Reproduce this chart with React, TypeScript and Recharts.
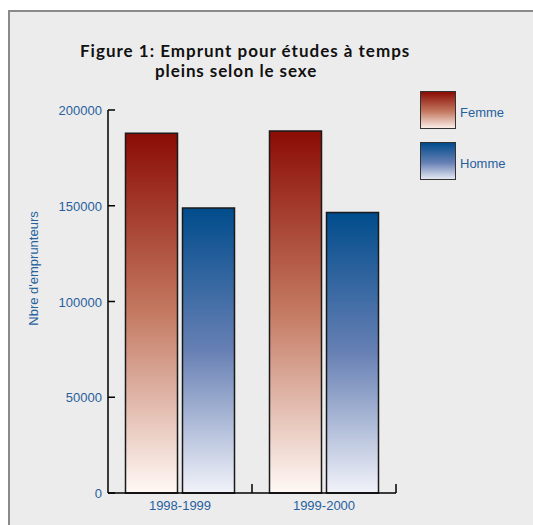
import React from 'react'
import { BarChart, Bar, XAxis, YAxis, Legend } from 'recharts'

const periods = ['1998-1999', '1999-2000']
const femme = [187800, 189000]
const homme = [148800, 146500]
const yTicks = [0, 50000, 100000, 150000, 200000]

const data = periods.map((p, i) => ({ period: p, Femme: femme[i], Homme: homme[i] }))

const BLUE = '#285f9d'
const FONT = '"Liberation Sans", Arial, sans-serif'

const legendBg: Record<string, string> = {
  Femme: 'linear-gradient(to bottom, #8b0c04, #c47a62 55%, #fbeee8)',
  Homme: 'linear-gradient(to bottom, #004c8c, #6780b4 55%, #e4e8f4)',
}

function YTick(props: any) {
  const { x, y, payload } = props
  return (
    <g>
      <line x1={x + 6} x2={x + 13} y1={y} y2={y} stroke="#000" strokeWidth={1.5} />
      <text x={x} y={y} dy={5} textAnchor="end" fill={BLUE} fontSize={13} fontFamily={FONT}>
        {payload.value}
      </text>
    </g>
  )
}

function XTick(props: any) {
  const { x, y, payload } = props
  const half = payload.offset ?? 72
  return (
    <g>
      <line x1={x + half} x2={x + half} y1={y} y2={y - 9} stroke="#000" strokeWidth={1.5} />
      <text x={x} y={y + 17} textAnchor="middle" fill={BLUE} fontSize={13} fontFamily={FONT}>
        {payload.value}
      </text>
    </g>
  )
}

function YLabel(props: any) {
  const { viewBox } = props
  const cx = viewBox.x + 10
  const cy = viewBox.y + viewBox.height / 2 - 33
  return (
    <text
      x={cx}
      y={cy}
      transform={`rotate(-90, ${cx}, ${cy})`}
      textAnchor="middle"
      dy={5}
      fill={BLUE}
      fontSize={13}
      fontFamily={FONT}
    >
      Nbre d'emprunteurs
    </text>
  )
}

function LegendBox(props: any) {
  const { payload } = props
  return (
    <div>
      {(payload || []).map((entry: any) => (
        <div key={entry.value} style={{ display: 'flex', alignItems: 'center', height: 38, marginBottom: 13 }}>
          <div
            style={{
              width: 34,
              height: 36,
              border: '1.5px solid #333',
              background: legendBg[entry.value],
            }}
          />
          <span style={{ marginLeft: 4, marginTop: 4, color: BLUE, fontSize: 13, fontFamily: FONT }}>{entry.value}</span>
        </div>
      ))}
    </div>
  )
}

export default function App() {
  return (
    <div style={{ position: 'absolute', left: 0, top: 0, width: 533, height: 525, background: '#fff', overflow: 'hidden' }}>
      <div
        style={{
          position: 'absolute',
          left: 8,
          top: 10,
          width: 533,
          height: 525,
          background: '#ececec',
          borderLeft: '2px solid #8a8a8a',
          borderTop: '2px solid #8a8a8a',
        }}
      />
      <div style={{ position: 'absolute', left: 0, top: 0 }}>
        <BarChart
          width={533}
          height={525}
          data={data}
          margin={{ top: 110, right: 27, bottom: 2, left: 23 }}
          barCategoryGap={17.5}
          barGap={5}
        >
          <defs>
            <linearGradient id="gFemme" x1="0" y1="0" x2="0" y2="1">
              <stop offset="0%" stopColor="#8b0c04" />
              <stop offset="50%" stopColor="#c47a62" />
              <stop offset="100%" stopColor="#fff9f6" />
            </linearGradient>
            <linearGradient id="gHomme" x1="0" y1="0" x2="0" y2="1">
              <stop offset="0%" stopColor="#004c8c" />
              <stop offset="50%" stopColor="#6780b4" />
              <stop offset="100%" stopColor="#f2f3fa" />
            </linearGradient>
          </defs>
          <XAxis
            dataKey="period"
            axisLine={{ stroke: '#000', strokeWidth: 1.5 }}
            tickLine={false}
            tickSize={0}
            tickMargin={0}
            height={30}
            tick={<XTick />}
            interval={0}
          />
          <YAxis
            domain={[0, 200000]}
            ticks={yTicks}
            width={85}
            axisLine={{ stroke: '#000', strokeWidth: 1.5 }}
            tickLine={false}
            tickSize={0}
            tickMargin={6}
            tick={<YTick />}
            label={<YLabel />}
          />
          <Legend
            layout="vertical"
            align="right"
            verticalAlign="middle"
            content={<LegendBox />}
            wrapperStyle={{ position: 'absolute', left: 420, top: 91, width: 110 }}
          />
          <Bar dataKey="Femme" fill="url(#gFemme)" stroke="#1a1a1a" strokeWidth={1.5} isAnimationActive={false} />
          <Bar dataKey="Homme" fill="url(#gHomme)" stroke="#1a1a1a" strokeWidth={1.5} isAnimationActive={false} />
        </BarChart>
      </div>
      <svg width={533} height={100} style={{ position: 'absolute', left: 0, top: 0 }}>
        <text x={80} y={57} fontFamily="Lato, sans-serif" fontWeight="bold" fontSize={17} letterSpacing={1} fill="#111">
          Figure 1: Emprunt pour études à temps
        </text>
        <text x={155} y={77} fontFamily="Lato, sans-serif" fontWeight="bold" fontSize={17} letterSpacing={0.9} fill="#111">
          pleins selon le sexe
        </text>
      </svg>
    </div>
  )
}
